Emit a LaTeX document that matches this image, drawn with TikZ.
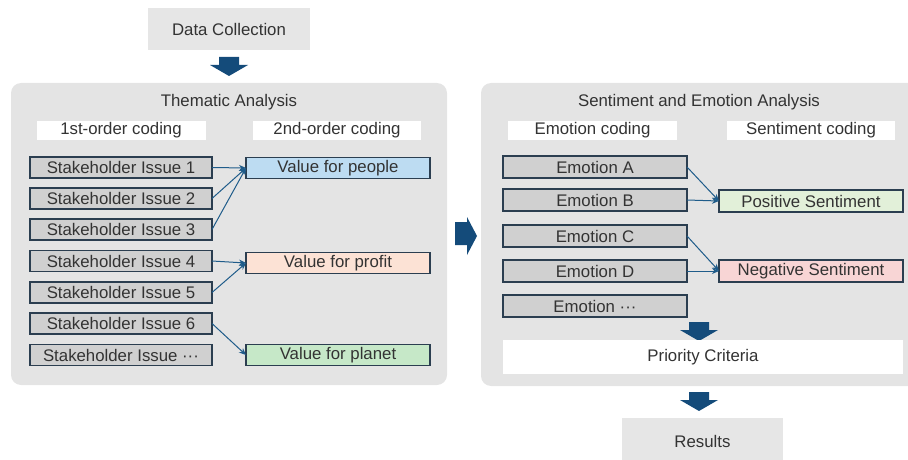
\documentclass[tikz,border=0pt]{standalone}
\usepackage{fontspec}
\setmainfont{Liberation Sans}
\usetikzlibrary{arrows.meta}
\definecolor{panel}{HTML}{E4E4E4}
\definecolor{lightbox}{HTML}{E6E6E6}
\definecolor{boxgray}{HTML}{D0D0D0}
\definecolor{edgecol}{HTML}{2B3E50}
\definecolor{linkcol}{HTML}{1F5C8A}
\definecolor{bigarrow}{HTML}{144B7A}
\definecolor{vpeople}{HTML}{BDDCF2}
\definecolor{vprofit}{HTML}{FCE2D5}
\definecolor{vplanet}{HTML}{C6E8C8}
\definecolor{posc}{HTML}{E2F0D9}
\definecolor{negc}{HTML}{F8D5D5}
\definecolor{txt}{HTML}{333333}
\begin{document}
\begin{tikzpicture}[x=1pt,y=-1pt,
  font=\fontsize{16.8}{19}\selectfont, text=txt,
  cell/.style={draw=edgecol, line width=1.1pt, inner sep=0pt, outer sep=0pt, minimum height=21pt, minimum width=183pt},
  issuebox/.style={cell, fill=boxgray},
  headbox/.style={fill=white, inner sep=0pt, minimum height=19pt, minimum width=169pt},
  plainbox/.style={fill=lightbox, inner sep=0pt},
  panelbox/.style={fill=panel, rounded corners=10pt},
  link/.style={draw=linkcol, line width=1pt, -{Stealth[length=7pt,width=6pt]}},
  downarr/.pic={\fill[bigarrow] (-10,0) -- (10,0) -- (10,8) -- (19,8) -- (0,19) -- (-19,8) -- (-10,8) -- cycle;}
]
\useasboundingbox (0,0) rectangle (908,460);
\clip (0,0) rectangle (908,460);

% panels
\path[panelbox] (11,83) rectangle (447,385);
\path[panelbox] (481,83) rectangle (925,386);

% top
\node[plainbox, minimum width=162pt, minimum height=42pt] (data) at (229,29) {Data Collection};
\pic at (229,57) {downarr};

% left panel
\node (ttl1) at (229,102) {Thematic Analysis};
\node[headbox] (h1) at (121,130.5) {1st-order coding};
\node[headbox, minimum width=168pt] (h2) at (337,130.5) {2nd-order coding};

\node[issuebox, minimum width=182pt] (s1) at (121,167.5) {Stakeholder Issue 1};
\node[issuebox, minimum width=182pt] (s2) at (121,198.5) {Stakeholder Issue 2};
\node[issuebox, minimum width=182pt] (s3) at (121,229.5) {Stakeholder Issue 3};
\node[issuebox, minimum width=182pt] (s4) at (121,261) {Stakeholder Issue 4};
\node[issuebox, minimum width=182pt] (s5) at (121,292.5) {Stakeholder Issue 5};
\node[issuebox, minimum width=182pt] (s6) at (121,323.5) {Stakeholder Issue 6};
\node[issuebox, minimum width=182pt] (s7) at (121,355) {Stakeholder Issue ···};

\node[cell, fill=vpeople, minimum width=184pt] (vpe) at (338,168) {Value for people};
\node[cell, fill=vprofit, minimum width=184pt] (vpr) at (338,263) {Value for profit};
\node[cell, fill=vplanet, minimum width=184pt] (vpl) at (338,355) {Value for planet};

\draw[link] (s1.east) -- (vpe.west);
\draw[link] (s2.east) -- (vpe.west);
\draw[link] (s3.east) -- (vpe.west);
\draw[link] (s4.east) -- (vpr.west);
\draw[link] (s5.east) -- (vpr.west);
\draw[link] (s6.east) -- (vpl.west);

% middle arrow
\fill[bigarrow] (455,222) -- (467,222) -- (467,217) -- (477,236) -- (467,255) -- (467,245) -- (455,245) -- cycle;

% right panel
\node (ttl2) at (699,102) {Sentiment and Emotion Analysis};
\node[headbox] (h3) at (592.5,130.5) {Emotion coding};
\node[headbox, minimum width=168pt] (h4) at (811,130.5) {Sentiment coding};

\node[issuebox, minimum width=184pt, minimum height=22pt] (e1) at (595,167) {Emotion A};
\node[issuebox, minimum width=184pt, minimum height=22pt] (e2) at (595,200) {Emotion B};
\node[issuebox, minimum width=184pt, minimum height=22pt] (e3) at (595,236) {Emotion C};
\node[issuebox, minimum width=184pt, minimum height=22pt] (e4) at (595,271) {Emotion D};
\node[issuebox, minimum width=184pt, minimum height=22pt] (e5) at (595,306) {Emotion ···};

\node[cell, fill=posc, minimum width=184pt, minimum height=22pt] (pos) at (811,201) {Positive Sentiment};
\node[cell, fill=negc, minimum width=184pt, minimum height=22pt] (neg) at (811,271) {Negative Sentiment};

\draw[link] (e1.east) -- (pos.west);
\draw[link] (e2.east) -- (pos.west);
\draw[link] (e3.east) -- (neg.west);
\draw[link] (e4.east) -- (neg.west);

\pic at (699,322) {downarr};
\node[fill=white, inner sep=0pt, minimum width=400pt, minimum height=34pt] (prio) at (703,357) {Priority Criteria};

% bottom
\pic at (699,392) {downarr};
\node[plainbox, minimum width=161pt, minimum height=46pt] (res) at (702.5,441) {Results};
\end{tikzpicture}
\end{document}
